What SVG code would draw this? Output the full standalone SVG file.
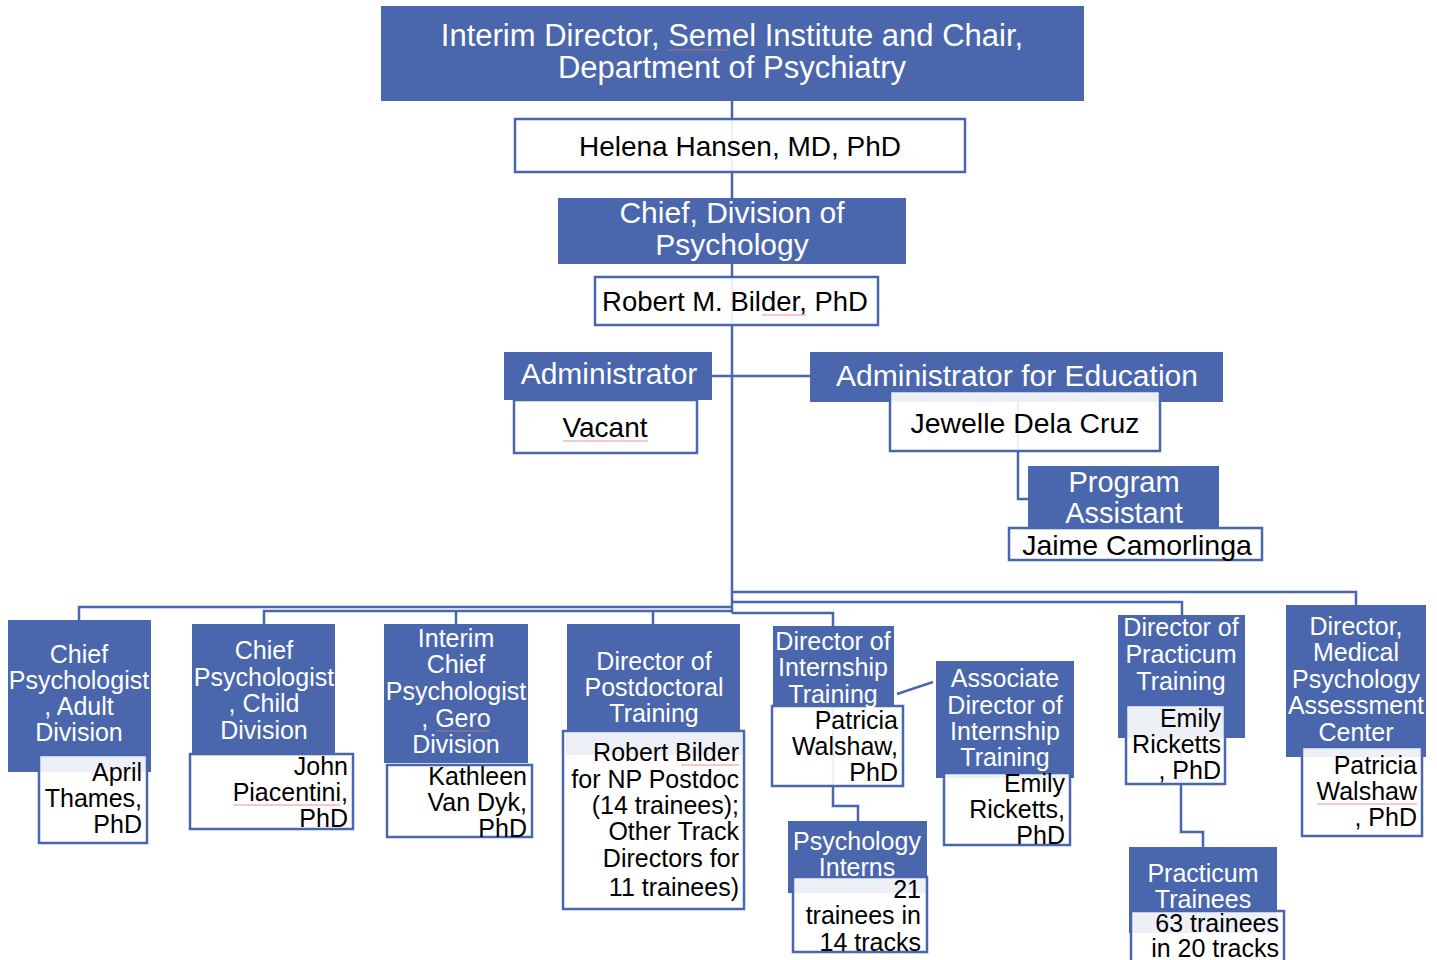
<svg xmlns="http://www.w3.org/2000/svg" width="1437" height="960" viewBox="0 0 1437 960">
<style>
.b{fill:#4a66ad}
.w{fill:#ffffff;fill-opacity:0.9;stroke:#4a66ad;stroke-width:2.5}
.c{fill:none;stroke:#4a66ad;stroke-width:2.5}
text{font-family:"Liberation Sans",Arial,sans-serif}
.tw{fill:#ffffff;text-anchor:middle}
.tk{fill:#000000}
.m{text-anchor:middle}
.r{text-anchor:end}
.s{font-size:25px}
.sq{fill:none;stroke:#e07070;stroke-width:1.2;opacity:0.75}
</style>
<rect width="1437" height="960" fill="#ffffff"/>
<g id="connectors">
<line class="c" x1="732" y1="101" x2="732" y2="613"/>
<line class="c" x1="712" y1="376" x2="810" y2="376"/>
<polyline class="c" points="1018,402 1018,499 1028,499"/>
<polyline class="c" points="732,592 1356,592 1356,605"/>
<polyline class="c" points="732,602 1182,602 1182,615"/>
<polyline class="c" points="732,613 833,613 833,626"/>
<polyline class="c" points="732,607 79,607 79,620"/>
<polyline class="c" points="732,611 264,611 264,624"/>
<line class="c" x1="456" y1="611" x2="456" y2="624"/>
<line class="c" x1="653" y1="611" x2="653" y2="624"/>
<line class="c" x1="897" y1="694" x2="933" y2="682"/>
<polyline class="c" points="833,706 833,806 858,806 858,821"/>
<polyline class="c" points="1181,738 1181,832 1203,832 1203,847"/>
</g>
<g id="n-director">
<rect class="b" x="381" y="6" width="703" height="95"/>
<text class="tw" font-size="31"><tspan x="732" y="46">Interim Director, Semel Institute and Chair,</tspan><tspan x="732" y="78">Department of Psychiatry</tspan></text>
<line class="sq" x1="669" y1="50" x2="727" y2="50"/>
</g>
<g id="n-hansen">
<rect class="w" x="515" y="119" width="450" height="53"/>
<text class="tk m" x="740" y="156" font-size="28">Helena Hansen, MD, PhD</text>
</g>
<g id="n-chief">
<rect class="b" x="558" y="198" width="348" height="66"/>
<text class="tw" font-size="30"><tspan x="732" y="223">Chief, Division of</tspan><tspan x="732" y="255">Psychology</tspan></text>
</g>
<g id="n-bilder">
<rect class="w" x="595" y="277" width="283" height="48"/>
<text class="tk m" x="735" y="311" font-size="27.5">Robert M. Bilder, PhD</text>
<line class="sq" x1="762" y1="315" x2="806" y2="315"/>
</g>
<g id="n-admin">
<rect class="b" x="504" y="352" width="208" height="48"/>
<rect class="w" x="514" y="400" width="183" height="53"/>
<text class="tw" x="609" y="384" font-size="30">Administrator</text>
<text class="tk m" x="605" y="437" font-size="28">Vacant</text>
<line class="sq" x1="563" y1="441" x2="648" y2="441"/>
</g>
<g id="n-admin-edu">
<rect class="b" x="810" y="352" width="413" height="50"/>
<rect class="w" x="890" y="391" width="270" height="60"/>
<text class="tw" x="1017" y="386" font-size="30">Administrator for Education</text>
<text class="tk m" x="1025" y="433" font-size="28.4">Jewelle Dela Cruz</text>
</g>
<g id="n-program-assistant">
<rect class="b" x="1028" y="466" width="191" height="64"/>
<rect class="w" x="1009" y="528" width="253" height="32"/>
<text class="tw" font-size="29"><tspan x="1124" y="492">Program</tspan><tspan x="1124" y="523">Assistant</tspan></text>
<text class="tk m" x="1137" y="555" font-size="28.5">Jaime Camorlinga</text>
</g>
<g id="n-adult">
<rect class="b" x="8" y="620" width="143" height="152"/>
<rect class="w" x="39" y="755" width="108" height="88"/>
<text class="tw s"><tspan x="79" y="663">Chief</tspan><tspan x="79" y="689">Psychologist</tspan><tspan x="79" y="715">, Adult</tspan><tspan x="79" y="741">Division</tspan></text>
<text class="tk r s"><tspan x="142" y="781">April</tspan><tspan x="142" y="807">Thames,</tspan><tspan x="142" y="833">PhD</tspan></text>
</g>
<g id="n-child">
<rect class="b" x="192" y="624" width="143" height="132"/>
<rect class="w" x="190" y="754" width="163" height="75"/>
<text class="tw s"><tspan x="264" y="659">Chief</tspan><tspan x="264" y="686">Psychologist</tspan><tspan x="264" y="712">, Child</tspan><tspan x="264" y="739">Division</tspan></text>
<text class="tk r s"><tspan x="348" y="775">John</tspan><tspan x="348" y="801">Piacentini,</tspan><tspan x="348" y="827">PhD</tspan></text>
<line class="sq" x1="233" y1="805" x2="340" y2="805"/>
</g>
<g id="n-gero">
<rect class="b" x="384" y="624" width="144" height="139"/>
<rect class="w" x="387" y="765" width="145" height="72"/>
<text class="tw s"><tspan x="456" y="647">Interim</tspan><tspan x="456" y="673">Chief</tspan><tspan x="456" y="700">Psychologist</tspan><tspan x="456" y="727">, Gero</tspan><tspan x="456" y="753">Division</tspan></text>
<text class="tk r s"><tspan x="527" y="785">Kathleen</tspan><tspan x="527" y="811">Van Dyk,</tspan><tspan x="527" y="837">PhD</tspan></text>
<line class="sq" x1="436" y1="731" x2="490" y2="731"/>
</g>
<g id="n-postdoc">
<rect class="b" x="567" y="624" width="173" height="107"/>
<rect class="w" x="563" y="731" width="181" height="178"/>
<rect x="566" y="733" width="176" height="22" fill="#4a66ad" fill-opacity="0.1"/>
<text class="tw s"><tspan x="654" y="670">Director of</tspan><tspan x="654" y="696">Postdoctoral</tspan><tspan x="654" y="722">Training</tspan></text>
<text class="tk r s"><tspan x="739" y="761">Robert Bilder</tspan><tspan x="739" y="788">for NP Postdoc</tspan><tspan x="739" y="814">(14 trainees);</tspan><tspan x="739" y="840">Other Track</tspan><tspan x="739" y="867">Directors for</tspan><tspan x="739" y="896">11 trainees)</tspan></text>
<line class="sq" x1="681" y1="765" x2="739" y2="765"/>
</g>
<g id="n-internship">
<rect class="b" x="773" y="626" width="121" height="80"/>
<rect class="w" x="772" y="706" width="131" height="80"/>
<text class="tw s"><tspan x="833" y="650">Director of</tspan><tspan x="833" y="676">Internship</tspan><tspan x="833" y="703">Training</tspan></text>
<text class="tk r s"><tspan x="898" y="729">Patricia</tspan><tspan x="898" y="755">Walshaw,</tspan><tspan x="898" y="781">PhD</tspan></text>
</g>
<g id="n-assoc-internship">
<rect class="b" x="936" y="661" width="138" height="117"/>
<rect class="w" x="944" y="773" width="126" height="72"/>
<text class="tw s"><tspan x="1005" y="687">Associate</tspan><tspan x="1005" y="714">Director of</tspan><tspan x="1005" y="740">Internship</tspan><tspan x="1005" y="766">Training</tspan></text>
<text class="tk r s"><tspan x="1065" y="792">Emily</tspan><tspan x="1065" y="818">Ricketts,</tspan><tspan x="1065" y="844">PhD</tspan></text>
</g>
<g id="n-interns">
<rect class="b" x="788" y="821" width="139" height="72"/>
<rect class="w" x="793" y="877" width="134" height="75"/>
<text class="tw s"><tspan x="857" y="850">Psychology</tspan><tspan x="857" y="876">Interns</tspan></text>
<text class="tk r s"><tspan x="921" y="898">21</tspan><tspan x="921" y="924">trainees in</tspan><tspan x="921" y="951">14 tracks</tspan></text>
</g>
<g id="n-practicum">
<rect class="b" x="1118" y="615" width="127" height="123"/>
<rect class="w" x="1126" y="705" width="99" height="79"/>
<text class="tw s"><tspan x="1181" y="636">Director of</tspan><tspan x="1181" y="663">Practicum</tspan><tspan x="1181" y="690">Training</tspan></text>
<text class="tk r s"><tspan x="1221" y="727">Emily</tspan><tspan x="1221" y="753">Ricketts</tspan><tspan x="1221" y="779">, PhD</tspan></text>
</g>
<g id="n-practicum-trainees">
<rect class="b" x="1129" y="847" width="148" height="86"/>
<rect class="w" x="1131" y="911" width="153" height="55"/>
<text class="tw s"><tspan x="1203" y="882">Practicum</tspan><tspan x="1203" y="908">Trainees</tspan></text>
<text class="tk r s"><tspan x="1279" y="932">63 trainees</tspan><tspan x="1279" y="957">in 20 tracks</tspan></text>
</g>
<g id="n-assessment">
<rect class="b" x="1286" y="605" width="140" height="152"/>
<rect class="w" x="1302" y="747" width="120" height="89"/>
<text class="tw s"><tspan x="1356" y="635">Director,</tspan><tspan x="1356" y="661">Medical</tspan><tspan x="1356" y="688">Psychology</tspan><tspan x="1356" y="714">Assessment</tspan><tspan x="1356" y="741">Center</tspan></text>
<text class="tk r s"><tspan x="1417" y="774">Patricia</tspan><tspan x="1417" y="800">Walshaw</tspan><tspan x="1417" y="826">, PhD</tspan></text>
<line class="sq" x1="1317" y1="804" x2="1417" y2="804"/>
</g>
</svg>
